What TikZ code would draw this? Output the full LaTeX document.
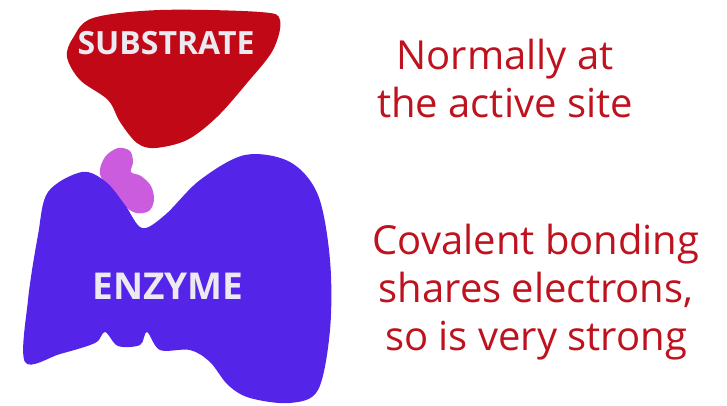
\documentclass[tikz,border=0pt]{standalone}
\usepackage{fontspec}
\setmainfont{Open Sans}
\usetikzlibrary{positioning}

\definecolor{substratered}{RGB}{192,8,22}
\definecolor{enzymeblue}{RGB}{84,36,232}
\definecolor{sitepink}{RGB}{204,92,222}
\definecolor{notered}{RGB}{190,18,30}
\definecolor{labelgrey}{RGB}{236,234,240}

\tikzset{
    blob/.style={line join=round, smooth cycle, tension=0.55},
    label/.style={text=labelgrey, inner sep=0pt},
    note/.style={text=notered, align=center, inner sep=0pt,
        font=\fontsize{40}{48}\selectfont}
}

\begin{document}
\begin{tikzpicture}[x=1pt, y=-1pt]
    \useasboundingbox (0,0) rectangle (727,406);

    % substrate
    \fill[substratered] plot[blob] coordinates {(73,38) (93,18) (160,10)
        (260,12) (280,20) (273,50) (247,83) (217,117) (187,140) (155,148)
        (137,143) (120,122) (108,100) (80,80) (67,57)};

    % active site, partly under the enzyme
    \fill[sitepink] plot[blob] coordinates {(100,174) (105,157) (118,148)
        (130,151) (133,162) (131,172) (141,176) (151,186) (154,200)
        (149,211) (136,213) (123,205) (112,194)};

    % enzyme
    \fill[enzymeblue] plot[blob] coordinates {(48,192) (82,172) (106,182)
        (125,205) (142,228) (165,215) (200,180) (245,155) (290,162)
        (318,195) (330,260) (330,330) (318,390) (290,403) (250,398)
        (228,385) (210,362) (190,350) (160,350) (147,332) (140,345)
        (118,346) (105,332) (95,343) (60,354) (25,362) (28,300) (38,235)};

    \node[label, font=\bfseries\fontsize{32}{34}\selectfont] (substrate) at (166,43) {SUBSTRATE};
    \node[label, font=\bfseries\fontsize{37}{40}\selectfont] (enzyme) at (168,286) {ENZYME};

    \node[note, anchor=base] (site) at (505,118) {Normally at\\the active site};
    \node[note, anchor=base] (covalent) at (536,350)
        {Covalent bonding\\shares electrons,\\so is very strong};
\end{tikzpicture}
\end{document}
